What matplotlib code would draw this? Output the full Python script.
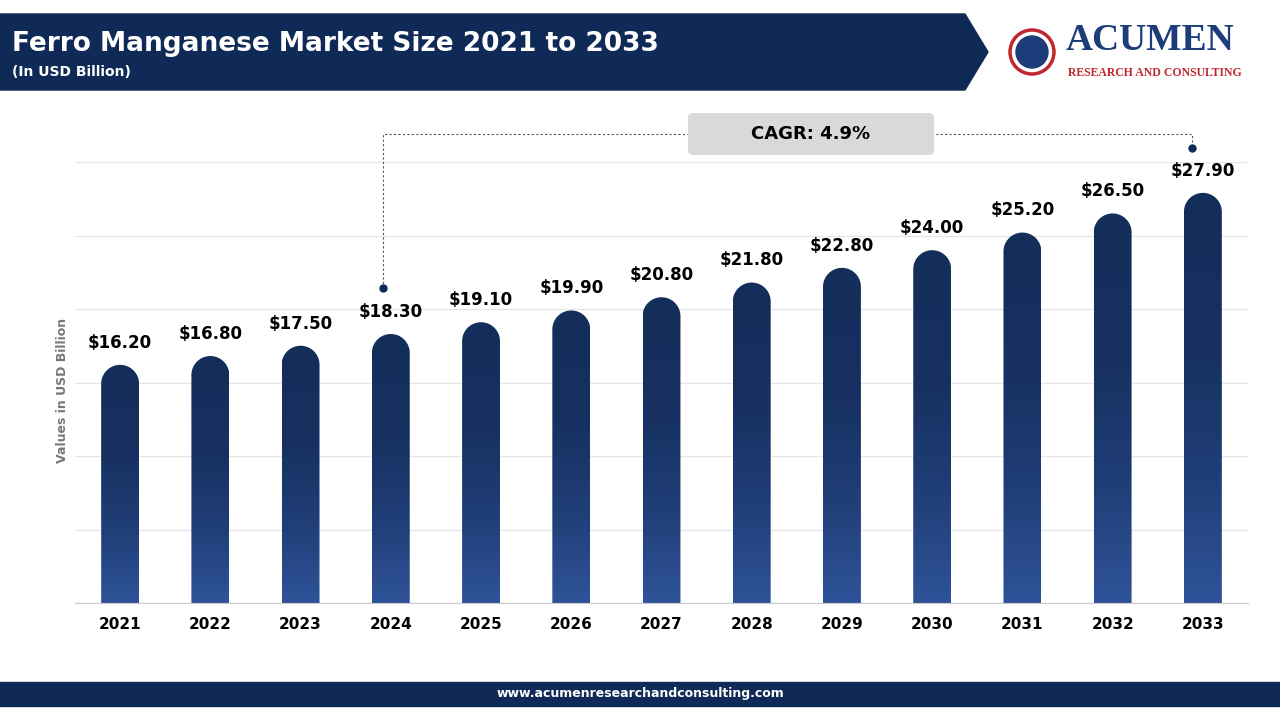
import numpy as np
import matplotlib.pyplot as plt
from matplotlib.path import Path
from matplotlib.patches import PathPatch, Polygon, FancyBboxPatch, Circle, Rectangle
from matplotlib.colors import LinearSegmentedColormap

years = ['2021', '2022', '2023', '2024', '2025', '2026', '2027', '2028', '2029', '2030', '2031', '2032', '2033']
values = [16.2, 16.8, 17.5, 18.3, 19.1, 19.9, 20.8, 21.8, 22.8, 24.0, 25.2, 26.5, 27.9]
labels = ['$16.20', '$16.80', '$17.50', '$18.30', '$19.10', '$19.90', '$20.80',
          '$21.80', '$22.80', '$24.00', '$25.20', '$26.50', '$27.90']
cagr = 'CAGR: 4.9%'

navy = '#0f2a57'
fig = plt.figure(figsize=(12.8, 7.2), dpi=100)

# background overlay axes in pixel coordinates
bg = fig.add_axes([0, 0, 1, 1])
bg.set_xlim(0, 1280)
bg.set_ylim(720, 0)
bg.axis('off')
bg.add_patch(Polygon([[0, 14], [965, 14], [988, 52], [965, 90], [0, 90]], color=navy))
bg.text(12, 44, 'Ferro Manganese Market Size 2021 to 2033', color='white', fontsize=19,
        fontweight='bold', va='center')
bg.text(12, 72, '(In USD Billion)', color='white', fontsize=10, fontweight='bold', va='center')
bg.add_patch(Rectangle((0, 682), 1280, 24, color=navy))
bg.text(640, 694, 'www.acumenresearchandconsulting.com', color='white', fontsize=9,
        fontweight='bold', ha='center', va='center')
# logo
bg.add_patch(Circle((1032, 52), 22, fill=False, ec='#c0272d', lw=2.5))
bg.add_patch(Circle((1032, 52), 16, color='#1d3d7a'))
bg.text(1066, 58, 'ACUMEN', color='#1d3d7a', fontsize=27, family='Liberation Serif',
        fontweight='bold', va='bottom')
bg.text(1068, 73, 'RESEARCH AND CONSULTING', color='#c0272d', fontsize=8.5,
        family='Liberation Serif', fontweight='bold', va='center')
bg.text(63, 390, 'Values in USD Billion', color='#777777', fontsize=9, fontweight='bold',
        rotation=90, ha='center', va='center')

ax = fig.add_axes([75 / 1280, 1 - 603 / 720, 1173 / 1280, 441 / 720])
x = np.arange(len(years))
ax.set_xlim(-0.5, len(years) - 0.5)
ax.set_ylim(0, 30)
ax.set_yticks(np.arange(0, 31, 5))
ax.set_yticklabels([])
ax.tick_params(length=0)
ax.grid(axis='y', color='#e6e6e6', lw=1)
ax.set_axisbelow(True)
for s in ['top', 'right', 'left']:
    ax.spines[s].set_visible(False)
ax.spines['bottom'].set_color('#cccccc')
ax.set_xticks(x)
ax.set_xticklabels(years, fontsize=11, fontweight='bold')
ax.tick_params(axis='x', pad=10)

w = 0.42
r = 1.29  # cap height in data units
grad = np.linspace(0, 1, 256).reshape(-1, 1)
cmap = LinearSegmentedColormap.from_list(
    'g', [(0, '#2f5399'), (0.3, '#203f78'), (0.6, '#173262'), (1, '#132e5a')])
for xi, v, lab in zip(x, values, labels):
    t = np.linspace(np.pi, 0, 40)
    cap = np.column_stack([xi + w / 2 * np.cos(t), v - r + r * np.sin(t)])
    pts = np.vstack([[xi - w / 2, 0], cap, [xi + w / 2, 0], [xi - w / 2, 0]])
    patch = PathPatch(Path(pts), fc='none', ec='none')
    ax.add_patch(patch)
    im = ax.imshow(grad, cmap=cmap, extent=[xi - w / 2, xi + w / 2, 0, v],
                   origin='lower', aspect='auto', zorder=2)
    im.set_clip_path(patch)
    ax.text(xi, v + 0.9, lab, ha='center', va='bottom', fontsize=12, fontweight='bold')

# CAGR connector
ax.plot([2.91, 2.91, 11.88, 11.88], [21.4, 31.9, 31.9, 30.95], ls=(0, (2, 2)),
        color='#555555', lw=0.8, clip_on=False)
ax.plot([2.91, 11.88], [21.4, 30.95], 'o', color=navy, ms=5, clip_on=False)
ax.set_autoscale_on(False)
ax.add_patch(FancyBboxPatch((688, 113), 246, 42, boxstyle='round,pad=0,rounding_size=5',
                            fc='#d9d9d9', ec='none', transform=bg.transData, zorder=5,
                            clip_on=False))
ax.text(811, 134, cagr, ha='center', va='center', fontsize=13, fontweight='bold',
        transform=bg.transData, zorder=6, clip_on=False)

fig.savefig('out.png', dpi=100)
